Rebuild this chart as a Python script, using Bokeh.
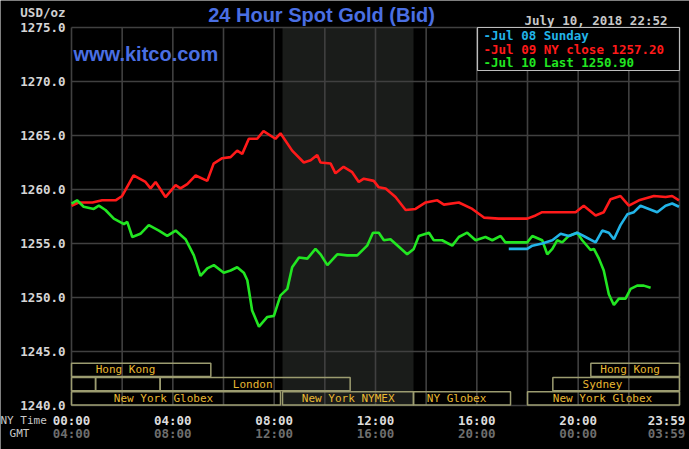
from bokeh.plotting import figure
from bokeh.models import Range1d, ColumnDataSource
from bokeh.core.properties import value
from bokeh.embed import file_html
from bokeh.resources import INLINE

# ---------------- data ----------------
# hours of the New York day (0 = 00:00 NY time)
sunday_hours = [17.26, 17.99, 18.19, 18.58, 18.98, 19.31, 19.63, 19.96, 20.29, 20.69, 20.95,
                21.21, 21.41, 21.67, 21.94, 22.20, 22.46, 22.79, 23.12, 23.45, 23.71, 23.98]
sunday_price = [1254.5, 1254.5, 1254.8, 1255.0, 1255.3, 1255.9, 1255.7, 1256.0, 1255.6, 1255.1, 1256.2,
                1256.0, 1255.4, 1256.7, 1257.7, 1257.9, 1258.5, 1258.2, 1257.9, 1258.5, 1258.7, 1258.4]

jul09_hours = [0.0, 0.28, 0.83, 1.21, 1.74, 2.0, 2.45, 2.92, 3.12, 3.32, 3.71, 4.11, 4.30, 4.57, 4.90,
               5.36, 5.61, 5.95, 6.28, 6.54, 6.74, 7.0, 7.33, 7.58, 8.05, 8.25, 8.71, 9.17, 9.44, 9.70,
               9.83, 10.23, 10.42, 10.74, 11.08, 11.34, 11.54, 11.93, 12.13, 12.40, 12.79, 13.19, 13.58,
               13.98, 14.44, 14.70, 15.29, 15.82, 16.28, 16.86, 17.99, 18.32, 18.58, 19.23, 19.90, 20.22,
               20.69, 21.01, 21.28, 21.67, 22.0, 22.40, 22.99, 23.45, 23.71, 23.98]
jul09_price = [1258.5, 1258.8, 1258.8, 1259.0, 1259.0, 1259.4, 1261.3, 1260.7, 1260.1, 1260.7, 1259.3,
               1260.4, 1260.1, 1260.5, 1261.3, 1260.8, 1262.4, 1262.9, 1263.0, 1263.6, 1263.3, 1264.7,
               1264.7, 1265.4, 1264.7, 1265.2, 1263.6, 1262.5, 1262.7, 1263.2, 1262.5, 1262.4, 1261.5,
               1262.1, 1261.6, 1260.7, 1261.0, 1260.8, 1260.2, 1260.1, 1259.3, 1258.1, 1258.2, 1258.8,
               1259.0, 1258.6, 1258.8, 1258.2, 1257.4, 1257.3, 1257.3, 1257.6, 1257.9, 1257.9, 1257.9,
               1258.5, 1257.6, 1257.9, 1259.1, 1259.4, 1258.5, 1259.0, 1259.4, 1259.3, 1259.4, 1259.0]

jul10_hours = [0.0, 0.22, 0.48, 0.88, 1.08, 1.34, 1.67, 2.07, 2.2, 2.4, 2.72, 3.05, 3.45, 3.78, 4.11,
               4.5, 4.83, 5.09, 5.36, 5.62, 6.01, 6.28, 6.54, 6.8, 6.94, 7.13, 7.4, 7.73, 7.99, 8.25,
               8.52, 8.71, 8.98, 9.31, 9.63, 9.83, 10.1, 10.49, 10.88, 11.28, 11.67, 11.9, 12.13, 12.33,
               12.59, 12.92, 13.25, 13.51, 13.71, 14.11, 14.30, 14.63, 15.03, 15.29, 15.62, 15.95, 16.34,
               16.61, 16.94, 17.13, 17.99, 18.19, 18.58, 18.78, 18.98, 19.17, 19.37, 19.63, 19.96, 20.16,
               20.49, 20.62, 20.82, 21.01, 21.21, 21.41, 21.61, 21.87, 22.07, 22.33, 22.59, 22.86]
jul10_price = [1258.7, 1259.0, 1258.4, 1258.2, 1258.5, 1258.1, 1257.3, 1256.8, 1257.0, 1255.6, 1255.9,
               1256.7, 1256.2, 1255.7, 1256.2, 1255.4, 1253.9, 1252.0, 1252.7, 1253.0, 1252.3, 1252.5,
               1252.8, 1252.3, 1251.6, 1248.8, 1247.3, 1248.2, 1248.3, 1250.2, 1250.8, 1252.8, 1253.7,
               1253.6, 1254.5, 1254.0, 1253.0, 1254.0, 1253.9, 1253.9, 1254.8, 1256.0, 1256.0, 1255.3,
               1255.4, 1254.7, 1254.0, 1254.5, 1255.7, 1256.0, 1255.3, 1255.3, 1254.8, 1255.6, 1256.0,
               1255.3, 1255.6, 1255.3, 1255.7, 1255.1, 1255.1, 1255.7, 1255.3, 1254.0, 1254.5, 1255.3,
               1255.1, 1255.7, 1256.0, 1255.3, 1254.4, 1254.5, 1253.6, 1252.5, 1250.3, 1249.3, 1249.9,
               1249.9, 1250.8, 1251.1, 1251.1, 1250.9]

legend_labels = ["-Jul 08 Sunday", "-Jul 09 NY close 1257.20", "-Jul 10 Last 1250.90"]
series_colors = ["#22b4e8", "#ff1a1a", "#22e622"]

# market sessions (hours, NY time); row 0 = bottom row
session_names = ["Hong Kong", "", "", "London", "New York Globex", "New York NYMEX",
                 "NY Globex", "New York Globex", "Sydney", "Hong Kong"]
session_start = [0.0, 0.0, 0.95, 3.5, 0.0, 8.33, 13.5, 18.0, 19.0, 20.5]
session_end = [5.5, 0.95, 3.5, 11.0, 8.25, 13.5, 17.33, 24.0, 24.0, 24.0]
session_row = [2, 1, 1, 1, 0, 0, 0, 0, 1, 2]
session_label_hour = [2.13, 0.5, 2.2, 7.15, 3.63, 10.92, 15.2, 20.96, 20.96, 22.05]

nymex_open, nymex_close = 8.33, 13.5

y_ticks = [1240, 1245, 1250, 1255, 1260, 1265, 1270, 1275]
y_tick_labels = ["1240.0", "1245.0", "1250.0", "1255.0", "1260.0", "1265.0", "1270.0", "1275.0"]
x_grid_hours = [0, 2, 4, 6, 8, 10, 12, 14, 16, 18, 20, 22, 24]
x_ticks = [0, 4, 8, 12, 16, 20, 24]
ny_time_labels = ["00:00", "04:00", "08:00", "12:00", "16:00", "20:00", "23:59"]
gmt_labels = ["04:00", "08:00", "12:00", "16:00", "20:00", "00:00", "03:59"]

title_text = "24 Hour Spot Gold (Bid)"
site_text = "www.kitco.com"
date_text = "July 10, 2018 22:52"
unit_text = "USD/oz"

# ---------------- layout (pixels of the 689x449 page) ----------------
W, H = 689, 449
PL, PR, PT, PB = 71, 679, 27, 405          # chart box
X0, X1, Y0, Y1 = 0, 24, 1240, 1275
hpp = (X1 - X0) / (PR - PL)
vpp = (Y1 - Y0) / (PB - PT)


def px_x(px):
    return X0 + (px - PL) * hpp


def px_y(py):
    return Y1 - (py - PT) * vpp


MONO = "DejaVu Sans Mono"
SANS = "Liberation Sans"

p = figure(width=W, height=H,
           x_range=Range1d(X0 - PL * hpp, X1 + (W - PR) * hpp),
           y_range=Range1d(Y0 - (H - PB) * vpp, Y1 + PT * vpp),
           x_axis_location=None, y_axis_location=None, min_border=0,
           background_fill_color="black", border_fill_color="black",
           outline_line_color=None, toolbar_location=None, output_backend="svg")
p.xgrid.visible = False
p.ygrid.visible = False

# NYMEX shading
p.quad(left=[nymex_open], right=[nymex_close], bottom=[Y0], top=[Y1],
       fill_color="#1a1c1a", line_color=None)

# grid
grid_color = "#404040"
p.segment(x0=x_grid_hours, x1=x_grid_hours, y0=[Y0] * len(x_grid_hours), y1=[Y1] * len(x_grid_hours),
          line_color=grid_color, line_width=1.6)
p.segment(x0=[X0] * len(y_ticks), x1=[X1] * len(y_ticks), y0=y_ticks, y1=y_ticks,
          line_color=grid_color, line_width=1.6)

# session boxes
row_h = 1.32
sess = ColumnDataSource(dict(
    left=session_start, right=session_end,
    bottom=[Y0 + 0.04 + r * row_h for r in session_row],
    top=[Y0 + r * row_h + row_h - 0.04 for r in session_row],
    mid=[Y0 + r * row_h + row_h / 2 for r in session_row],
    lx=session_label_hour, name=session_names))
p.quad(left="left", right="right", bottom="bottom", top="top", source=sess,
       fill_color=None, line_color="#9c9c70", line_width=1.5)
p.text(x="lx", y="mid", text="name", source=sess, text_font=value(MONO),
       text_font_size="11px", text_color="#e8b832", text_align="center", text_baseline="middle")

# price lines
p.line(jul09_hours, jul09_price, line_color=series_colors[1], line_width=2.6)
p.line(jul10_hours, jul10_price, line_color=series_colors[2], line_width=2.6)
p.line(sunday_hours, sunday_price, line_color=series_colors[0], line_width=2.6)

# legend box
p.quad(left=[px_x(477)], right=[X1], bottom=[px_y(70)], top=[Y1], fill_color="black",
       line_color="#bdbdbd", line_width=1.2)
leg = ColumnDataSource(dict(x=[px_x(483)] * 3, y=[px_y(35 + 13.5 * i) for i in range(3)],
                            t=legend_labels, c=series_colors))
p.text(x="x", y="y", text="t", text_color="c", source=leg, text_font=value(MONO),
       text_font_style="bold", text_font_size="12.5px", text_baseline="middle")

# y tick labels
p.text(x=[px_x(65)] * len(y_ticks), y=y_ticks, text=y_tick_labels, text_font=value(MONO),
       text_font_style="bold", text_font_size="12.5px", text_color="#d6d6d6",
       text_align="right", text_baseline="middle")

# x tick labels (NY time and GMT); last one kept inside the page
x_pos = [min(t, px_x(666)) for t in x_ticks]
p.text(x=x_pos, y=[px_y(419.6)] * len(x_pos), text=ny_time_labels, text_font=value(MONO),
       text_font_style="bold", text_font_size="12.5px", text_color="#dcdcdc",
       text_align="center", text_baseline="middle")
p.text(x=x_pos, y=[px_y(433.2)] * len(x_pos), text=gmt_labels, text_font=value(MONO),
       text_font_style="bold", text_font_size="12.5px", text_color="#6e6e6e",
       text_align="center", text_baseline="middle")
p.text(x=[px_x(0)], y=[px_y(419.8)], text=["NY Time"], text_font=value(MONO),
       text_font_size="11px", text_color="#c8c8c8", text_align="left", text_baseline="middle")
p.text(x=[px_x(19)], y=[px_y(433.2)], text=["GMT"], text_font=value(MONO),
       text_font_size="11px", text_color="#c8c8c8", text_align="center", text_baseline="middle")

# header texts
p.text(x=[px_x(321)], y=[px_y(14.5)], text=[title_text], text_font=value(SANS),
       text_font_style="bold", text_font_size="20px", text_color="#4a6fe3",
       text_align="center", text_baseline="middle")
p.text(x=[px_x(667)], y=[px_y(19.5)], text=[date_text], text_font=value(MONO),
       text_font_style="bold", text_font_size="12.5px", text_color="#c8c8c8",
       text_align="right", text_baseline="middle")
p.text(x=[px_x(65)], y=[px_y(12)], text=[unit_text], text_font=value(MONO),
       text_font_style="bold", text_font_size="12.5px", text_color="#d0d0d0",
       text_align="right", text_baseline="middle")
p.text(x=[px_x(73)], y=[px_y(53)], text=[site_text], text_font=value(SANS),
       text_font_style="bold", text_font_size="20px", text_color="#4a6fe3",
       text_align="left", text_baseline="middle")

html = file_html(p, INLINE)
open("out.html", "w").write(html)
